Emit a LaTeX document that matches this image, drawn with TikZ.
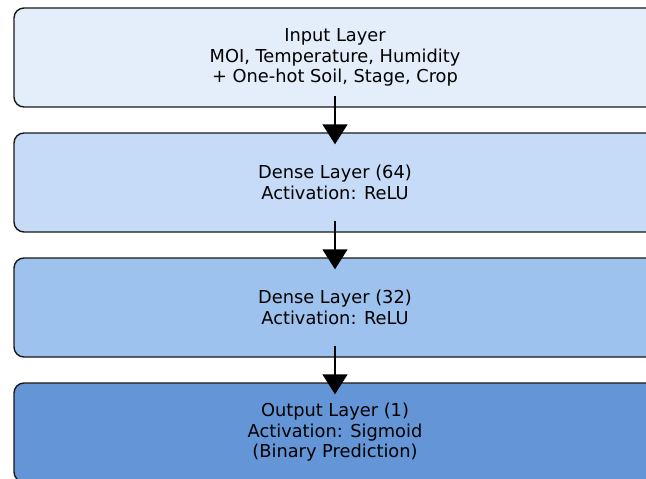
\documentclass[tikz,border=0pt]{standalone}
\usepackage{fontspec}
\setmainfont{DejaVu Sans}
\usetikzlibrary{arrows.meta,positioning}
\definecolor{inputcol}{HTML}{E4EEFA}
\definecolor{densecolA}{HTML}{C6DBF7}
\definecolor{densecolB}{HTML}{9EC2EE}
\definecolor{outputcol}{HTML}{6495D6}
\tikzset{
    layerbox/.style={draw=black!90, line width=1.4pt, rounded corners=10pt,
        minimum width=642pt, minimum height=99pt, align=center,
        font=\fontsize{17.8}{20.5}\selectfont, inner sep=0pt},
    flowarrow/.style={line width=1.5pt, -{Triangle[width=25pt,length=20pt]},
        shorten <=-12pt, shorten >=-12pt}
}
\begin{document}
\begin{tikzpicture}[x=1pt,y=-1pt]
        \useasboundingbox (0,0) rectangle (646,479);
        \clip (0,0) rectangle (646,479);
        \node [layerbox, fill=inputcol] (input) at (335,57.5) {Input Layer\\MOI, Temperature, Humidity\\+ One-hot Soil, Stage, Crop};
        \node [layerbox, fill=densecolA] (dense64) at (335,182.5) {Dense Layer (64)\\Activation: ReLU};
        \node [layerbox, fill=densecolB] (dense32) at (335,307.5) {Dense Layer (32)\\Activation: ReLU};
        \node [layerbox, fill=outputcol] (output) at (335,432.5) {Output Layer (1)\\Activation: Sigmoid\\(Binary Prediction)};
        \draw [flowarrow] (input) -- (dense64);
        \draw [flowarrow] (dense64) -- (dense32);
        \draw [flowarrow] (dense32) -- (output);
    \end{tikzpicture}
\end{document}
